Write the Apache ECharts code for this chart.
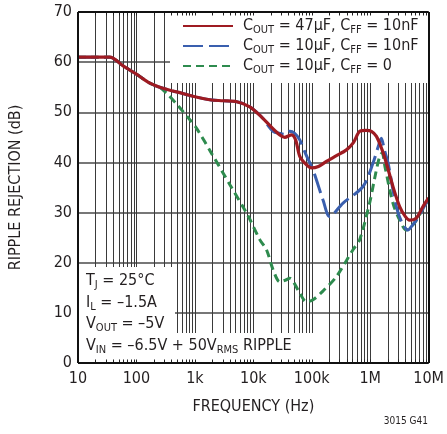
<!DOCTYPE html>
<html><head><meta charset="utf-8">
<script src="https://cdn.jsdelivr.net/npm/echarts@6/dist/echarts.min.js"></script>
<style>html,body{margin:0;padding:0;background:#fff}#c{width:447px;height:434px}</style>
</head><body><div id="c"></div>
<script>
// ---- data ----
const xTickValues = [10, 100, 1000, 10000, 100000, 1000000, 10000000];
const xTickLabels = ['10', '100', '1k', '10k', '100k', '1M', '10M'];
const yTicks = [0, 10, 20, 30, 40, 50, 60, 70];

const redFreq = [10,20,35,60,100,170,250,374,600,925,1800,3000,5200,8700,14000,21000,28400,34500,45000,53000,62400,80000,98600,130000,178000,260000,392000,520000,661000,850000,1050000,1280000,1600000,1890000,2450000,3190000,4000000,4730000,6160000,8000000,10000000];
const redDb   = [61,61,61,59.2,57.6,55.8,55.0,54.4,53.8,53.2,52.5,52.3,52.1,51.1,49,46.9,45.5,45.0,45.5,44.5,41.2,39.6,38.9,39.2,40.2,41.3,42.5,44,46.2,46.4,46.2,45.2,42.5,39.9,35.2,31.2,29.2,28.5,28.9,31.2,32.9];

const blueFreq = [10,20,35,60,100,170,250,374,600,925,1800,3000,5200,8700,14000,21800,28400,35000,42000,51000,62400,80000,105000,156000,203000,343000,753000,1120000,1400000,1550000,1750000,2020000,2800000,3500000,4430000,5300000,6160000,9100000,10000000];
const blueDb   = [61,61,61,59.2,57.6,55.8,55.0,54.4,53.8,53.2,52.5,52.3,52.1,51.1,49,46.2,45.8,45.6,46.2,45.8,44.5,41.5,38.5,32.5,29.2,31.9,35.2,39.9,43.5,44.8,42.5,39.9,31.2,28.0,26.5,27.5,28.5,31.9,32.5];

const greenFreq = [10,20,35,60,100,170,250,328,500,822,1070,2000,4000,8000,12900,16800,21800,28400,35000,42000,60000,81000,105000,160000,263000,508000,661000,977000,1200000,1450000,1600000,1800000,2450000,3200000,4140000,5300000,6160000,9100000,10000000];
const greenDb   = [61,61,61,59.2,57.6,55.8,55.0,53.8,51.5,48.5,46.8,41.5,35.5,29.5,24.6,22.6,18.6,16.2,16.5,16.9,14.3,12.2,12.6,14.5,17.2,22.6,24.6,31.9,37,41.2,41.9,39,31.9,28.5,26.5,27.5,28.5,31.9,32.5];

const seriesNames = ['C47_10n', 'C10_10n', 'C10_0'];
const legendText = {
  'C47_10n': '{n|C}{s|OUT}{n| = 47µF, C}{s|FF}{n| = 10nF}',
  'C10_10n': '{n|C}{s|OUT}{n| = 10µF, C}{s|FF}{n| = 10nF}',
  'C10_0':   '{n|C}{s|OUT}{n| = 10µF, C}{s|FF}{n| = 0}'
};
const noteLines = [
  '{n|T}{s|J}{n| = 25°C}',
  '{n|I}{s|L}{n| = –1.5A}',
  '{n|V}{s|OUT}{n| = –5V}',
  '{n|V}{s|IN}{n| = –6.5V + 50V}{s|RMS}{n| RIPPLE}'
];

// ---- helpers ----
const FONT = "'Liberation Sans Narrow','DejaVu Sans Condensed','Roboto Condensed',sans-serif";
const TXT = '#231f20';
const zip = (a, b) => a.map((v, i) => [v, b[i]]);
const rich = {
  n: {fontFamily: FONT, fontSize: 16, color: TXT, lineHeight: 20},
  s: {fontFamily: FONT, fontSize: 11, color: TXT, lineHeight: 9, verticalAlign: 'bottom'}
};

const gridVals = [];
for (let d = 10; d < 1e7; d *= 10) for (let k = 1; k <= 9; k++) gridVals.push(k * d);
gridVals.push(1e7);

const vLines = gridVals.map(v => ({xAxis: v}));
const ticks = [];
gridVals.forEach(v => {
  ticks.push([{coord: [v, 0]}, {coord: [v, 0.7]}]);
  ticks.push([{coord: [v, 70]}, {coord: [v, 69.3]}]);
});
const frame = [{xAxis: 10}, {xAxis: 1e7}, {yAxis: 0}, {yAxis: 70}];

const chart = echarts.init(document.getElementById('c'), null, {renderer: 'canvas'});
chart.setOption({
  animation: false,
  backgroundColor: '#fff',
  grid: {left: 78, right: 18, top: 12, bottom: 71},
  xAxis: {
    type: 'log', logBase: 10, min: 10, max: 1e7,
    axisLine: {show: false}, axisTick: {show: false}, splitLine: {show: false},
    axisLabel: {fontFamily: FONT, fontSize: 16, color: TXT, margin: 8,
      formatter: v => { const i = xTickValues.findIndex(t => Math.abs(t - v) / t < 1e-6); return i >= 0 ? xTickLabels[i] : ''; }},
    name: 'FREQUENCY (Hz)', nameLocation: 'middle', nameGap: 36,
    nameTextStyle: {fontFamily: FONT, fontSize: 16, color: TXT}
  },
  yAxis: {
    type: 'value', min: 0, max: 70, interval: 10,
    axisLine: {show: false}, axisTick: {show: false},
    splitLine: {show: true, lineStyle: {color: '#4a4a4a', width: 1.6}},
    axisLabel: {fontFamily: FONT, fontSize: 16, color: TXT, margin: 6,
      formatter: v => yTicks.includes(v) ? String(v) : ''},
    name: 'RIPPLE REJECTION (dB)', nameLocation: 'middle', nameGap: 54,
    nameTextStyle: {fontFamily: FONT, fontSize: 16, color: TXT}
  },
  legend: {
    z: 20, orient: 'vertical', left: 177, top: 13, itemGap: 2,
    itemWidth: 50, itemHeight: 14, data: seriesNames,
    formatter: name => legendText[name],
    itemStyle: {opacity: 0},
    textStyle: {rich: rich, padding: [0, 0, 0, 5]},
    selectedMode: false
  },
  graphic: {z: 3, zlevel: 0, elements: [
    {type: 'rect', z: 3, silent: true, shape: {x: 170, y: 12, width: 259, height: 71}, style: {fill: '#fff'}},
    {type: 'rect', z: 3, silent: true, shape: {x: 78, y: 267, width: 97, height: 96}, style: {fill: '#fff'}},
    {type: 'rect', z: 3, silent: true, shape: {x: 78, y: 333, width: 237, height: 30}, style: {fill: '#fff'}},
    ...noteLines.map((t, i) => ({type: 'text', z: 4, left: 86, top: 273 + i * 21.5,
      style: {text: t, rich: rich, fill: TXT}})),
    {type: 'text', z: 4, right: 19, top: 416, style: {text: '3015 G41', fontFamily: FONT, fontSize: 10, fill: TXT}}
  ]},
  series: [
    {type: 'line', z: 1, silent: true, data: [], symbol: 'none',
      markLine: {z: 1, silent: true, symbol: 'none', label: {show: false},
        lineStyle: {color: '#3a3a3a', width: 1, type: 'solid'}, data: vLines}},
    {name: 'C10_0', type: 'line', z: 5, data: zip(greenFreq, greenDb), symbol: 'none', smooth: 0.3,
      color: '#2e8b4e', lineStyle: {color: '#2e8b4e', width: 3, type: [8, 5]}},
    {name: 'C10_10n', type: 'line', z: 6, data: zip(blueFreq, blueDb), symbol: 'none', smooth: 0.3,
      color: '#3a5fae', lineStyle: {color: '#3a5fae', width: 3, type: [20, 6]}},
    {name: 'C47_10n', type: 'line', z: 7, data: zip(redFreq, redDb), symbol: 'none', smooth: 0.3,
      color: '#9e1b22', lineStyle: {color: '#9e1b22', width: 3.2, type: 'solid'}},
    {type: 'line', z: 8, silent: true, data: [], symbol: 'none',
      markLine: {z: 8, silent: true, symbol: 'none', label: {show: false},
        lineStyle: {color: '#222', width: 1, type: 'solid'}, data: ticks}},
    {type: 'line', z: 9, silent: true, data: [], symbol: 'none',
      markLine: {z: 9, silent: true, symbol: 'none', label: {show: false},
        lineStyle: {color: '#111', width: 2, type: 'solid'}, data: frame}}
  ]
});
</script></body></html>
